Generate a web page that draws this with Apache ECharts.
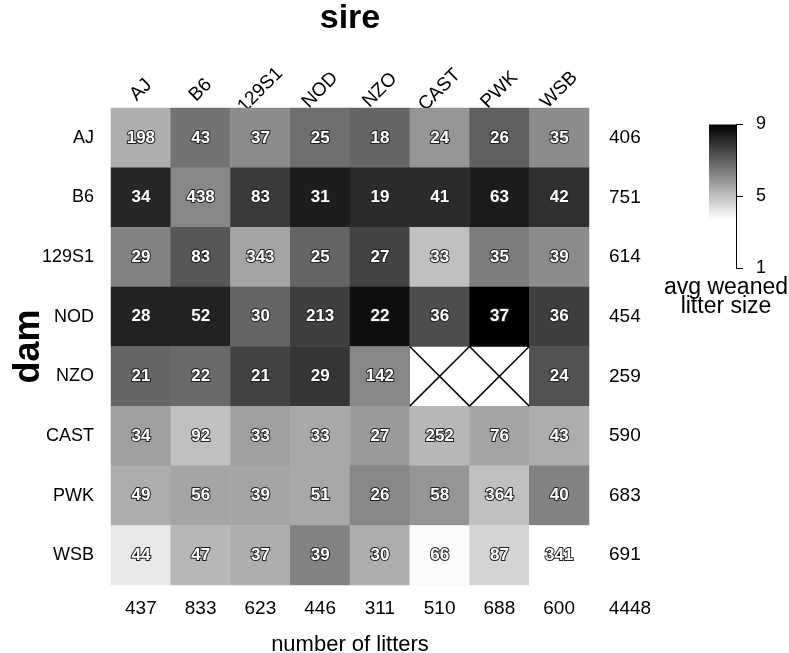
<!DOCTYPE html>
<html>
<head>
<meta charset="utf-8">
<script src="https://cdn.jsdelivr.net/npm/echarts@6/dist/echarts.min.js"></script>
<style>
  html, body { margin: 0; padding: 0; background: #fff; }
  #chart { width: 789px; height: 653px; }
</style>
</head>
<body>
<div id="chart"></div>
<script>
// strains (sire = columns, dam = rows)
const sires = ['AJ', 'B6', '129S1', 'NOD', 'NZO', 'CAST', 'PWK', 'WSB']
const dams = ['AJ', 'B6', '129S1', 'NOD', 'NZO', 'CAST', 'PWK', 'WSB']

// number of litters per cross (null = no cross)
const litters = [
  [198, 43, 37, 25, 18, 24, 26, 35],
  [34, 438, 83, 31, 19, 41, 63, 42],
  [29, 83, 343, 25, 27, 33, 35, 39],
  [28, 52, 30, 213, 22, 36, 37, 36],
  [21, 22, 21, 29, 142, null, null, 24],
  [34, 92, 33, 33, 27, 252, 76, 43],
  [49, 56, 39, 51, 26, 58, 364, 40],
  [44, 47, 37, 39, 30, 66, 87, 341]
]

// avg weaned litter size per cross (read from the grey shade)
const avgSize = [
  [5.4, 6.6, 6.1, 6.7, 6.9, 5.9, 7.0, 6.1],
  [8.2, 6.2, 7.8, 8.4, 8.1, 8.1, 8.4, 8.0],
  [6.3, 7.2, 5.6, 6.9, 7.6, 5.0, 6.4, 6.1],
  [8.3, 8.3, 6.9, 7.7, 8.7, 7.4, 9.0, 7.7],
  [6.9, 6.8, 7.6, 7.9, 6.2, null, null, 7.3],
  [5.7, 5.0, 5.7, 5.5, 5.8, 5.2, 5.6, 5.4],
  [5.4, 5.6, 5.6, 5.5, 6.2, 5.9, 5.0, 6.3],
  [4.2, 5.2, 5.4, 6.3, 5.4, 3.8, 4.6, 3.7]
]

// margins
const damTotals = [406, 751, 614, 454, 259, 590, 683, 691]
const sireTotals = [437, 833, 623, 446, 311, 510, 688, 600]
const grandTotal = 4448

// colour scale: white at LOW, black at HIGH
const LOW = 3.7
const HIGH = 9
const FONT = '"Liberation Sans", Arial, Helvetica, sans-serif'

function grayFor(v) {
  const t = Math.min(1, Math.max(0, (HIGH - v) / (HIGH - LOW)))
  const g = Math.round(255 * t)
  return 'rgb(' + g + ',' + g + ',' + g + ')'
}

const rampColors = []
for (let i = 0; i <= 80; i++) rampColors.push(grayFor(1 + i * 0.1))
const barStops = []
for (let i = 0; i <= 80; i++) barStops.push({ offset: i / 80, color: grayFor(9 - i * 0.1) })

const cells = []
const missing = []
dams.forEach((d, yi) => {
  sires.forEach((s, xi) => {
    if (avgSize[yi][xi] == null) {
      missing.push([xi, yi])
    } else {
      cells.push([xi, yi, avgSize[yi][xi], litters[yi][xi]])
    }
  })
})

const chart = echarts.init(document.getElementById('chart'))

chart.setOption({
  animation: false,
  textStyle: { fontFamily: FONT, color: '#000' },
  grid: [
    { left: 111, top: 108, width: 478, height: 477, outerBoundsMode: 'none', containLabel: false },
    { left: 709, top: 124.5, width: 27, height: 144, outerBoundsMode: 'none', containLabel: false } // colour bar
  ],
  xAxis: [{
    type: 'category',
    gridIndex: 0,
    position: 'top',
    data: sires,
    axisLine: { show: false },
    axisTick: { show: false },
    axisLabel: {
      rotate: -45,
      fontSize: 19,
      color: '#000',
      margin: 18,
      align: 'center',
      verticalAlign: 'middle'
    },
    name: 'sire',
    nameLocation: 'middle',
    nameGap: 72,
    nameMoveOverlap: false,
    nameTextStyle: { fontSize: 34, fontWeight: 'bold', color: '#000' }
  },
  {
    type: 'category',
    gridIndex: 0,
    position: 'bottom',
    data: sireTotals.map(String),
    axisLine: { show: false },
    axisTick: { show: false },
    axisLabel: { fontSize: 19, color: '#000', margin: 14 },
    name: 'number of litters',
    nameLocation: 'middle',
    nameGap: 49,
    nameMoveOverlap: false,
    nameTextStyle: { fontSize: 22, color: '#000' }
  },
  {
    type: 'category',
    gridIndex: 1,
    data: ['bar'],
    show: false
  }],
  yAxis: [{
    type: 'category',
    gridIndex: 0,
    inverse: true,
    data: dams,
    axisLine: { show: false },
    axisTick: { show: false },
    axisLabel: { fontSize: 18, color: '#000', margin: 17 },
    name: 'dam',
    nameLocation: 'middle',
    nameGap: 64,
    nameMoveOverlap: false,
    nameTextStyle: { fontSize: 36, fontWeight: 'bold', color: '#000' }
  },
  {
    type: 'category',
    gridIndex: 0,
    position: 'right',
    inverse: true,
    data: damTotals.map(String),
    axisLine: { show: false },
    axisTick: { show: false },
    axisLabel: { fontSize: 19, color: '#000', margin: 20 }
  },
  {
    type: 'value',
    gridIndex: 1,
    position: 'right',
    min: 1,
    max: 9,
    interval: 4,
    axisLine: { show: true, lineStyle: { color: '#000', width: 1 } },
    axisTick: { show: true, length: 7, lineStyle: { color: '#000' } },
    axisLabel: { fontSize: 18, color: '#000', margin: 20 },
    splitLine: { show: false }
  }],
  visualMap: {
    show: false,
    type: 'continuous',
    seriesIndex: 0,
    dimension: 2,
    min: 1,
    max: 9,
    inRange: { color: rampColors }
  },
  series: [{
    type: 'heatmap',
    xAxisIndex: 0,
    yAxisIndex: 0,
    data: cells,
    label: {
      show: true,
      formatter: p => String(p.data[3]),
      color: '#fff',
      fontSize: 17,
      fontWeight: 'bold',
      textBorderColor: '#222',
      textBorderWidth: 2
    },
    emphasis: { disabled: true }
  },
  {
    // crosses with no data: white box with an X
    type: 'custom',
    xAxisIndex: 0,
    yAxisIndex: 0,
    data: missing,
    renderItem: (params, api) => {
      const c = api.coord([api.value(0), api.value(1)])
      const s = api.size([1, 1])
      const x0 = c[0] - s[0] / 2, x1 = c[0] + s[0] / 2
      const y0 = c[1] - s[1] / 2, y1 = c[1] + s[1] / 2
      const st = { stroke: '#000', lineWidth: 1.5 }
      return {
        type: 'group',
        children: [
          { type: 'line', shape: { x1: x0, y1: y0, x2: x1, y2: y1 }, style: st },
          { type: 'line', shape: { x1: x0, y1: y1, x2: x1, y2: y0 }, style: st }
        ]
      }
    }
  },
  {
    // colour bar for avg weaned litter size
    type: 'custom',
    xAxisIndex: 2,
    yAxisIndex: 2,
    data: [[0, 1, 9]],
    renderItem: (params, api) => {
      const top = api.coord([0, api.value(2)])
      const bot = api.coord([0, api.value(1)])
      const w = api.size([1, 0])[0]
      return {
        type: 'rect',
        shape: { x: top[0] - w / 2, y: top[1], width: w, height: bot[1] - top[1] },
        style: {
          fill: { type: 'linear', x: 0, y: 0, x2: 0, y2: 1, colorStops: barStops }
        }
      }
    }
  }],
  graphic: [
    {
      type: 'text',
      x: 630,
      y: 609,
      style: { text: String(grandTotal), fontSize: 19, fontFamily: FONT, fill: '#000', align: 'center', verticalAlign: 'middle' }
    },
    {
      type: 'text',
      x: 726,
      y: 278,
      style: {
        text: 'avg weaned\nlitter size',
        fontSize: 23,
        lineHeight: 19,
        align: 'center',
        verticalAlign: 'top',
        fontFamily: FONT,
        fill: '#000'
      }
    }
  ]
})
</script>
</body>
</html>
